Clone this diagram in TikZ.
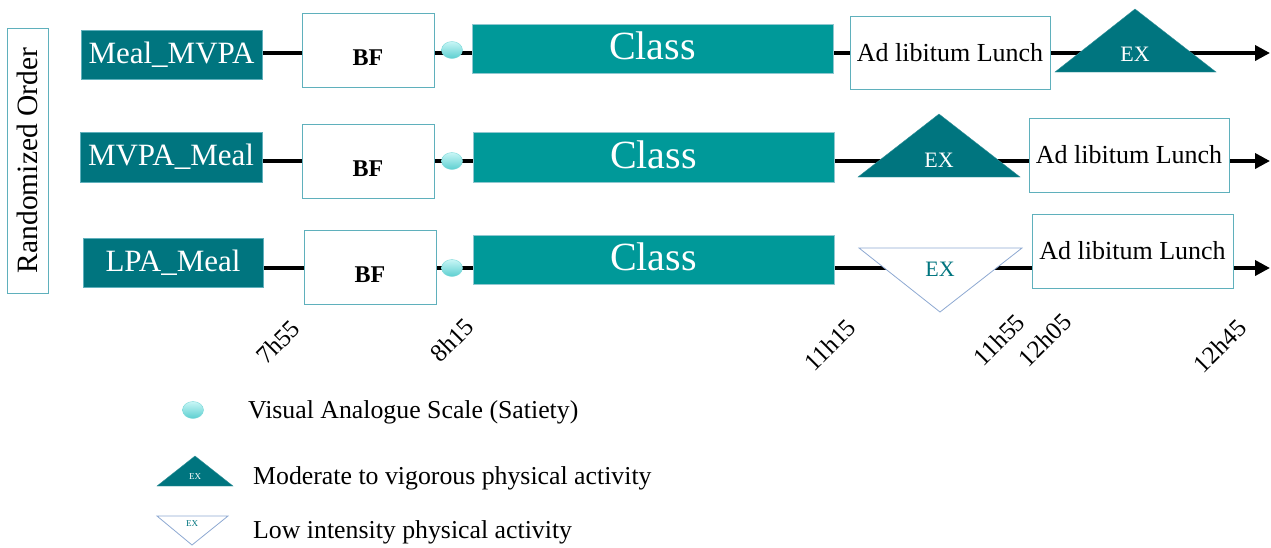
\documentclass[tikz,border=0pt]{standalone}
\usepackage{fontspec}
\setmainfont{Liberation Serif}
\usetikzlibrary{arrows.meta,backgrounds,shapes.geometric}
\definecolor{dteal}{HTML}{00757F}
\definecolor{cteal}{HTML}{009999}
\definecolor{bord}{HTML}{5FB0BC}
\definecolor{dotlo}{HTML}{5CCFD0}
\definecolor{dothi}{HTML}{C8F6F6}
\definecolor{lowedge}{HTML}{8EA9D2}
\newcommand{\fs}[1]{\fontsize{#1}{#1}\selectfont}
\tikzset{
  x=1pt, y=-1pt,
  labbox/.style={fill=dteal, draw=bord, line width=0.8pt, text=white, inner sep=0pt, font=\fs{31}},
  bfbox/.style={fill=white, draw=bord, line width=1pt, inner sep=0pt, minimum width=132pt, minimum height=74pt, font=\fs{24}\bfseries, text height=30pt, text depth=0pt},
  classbox/.style={fill=cteal, draw=bord!70, line width=0.8pt, text=white, inner sep=0pt, minimum width=361pt, minimum height=49pt, font=\fs{40}, text height=28pt, text depth=6pt},
  lunchbox/.style={fill=white, draw=bord, line width=1pt, inner sep=0pt, minimum width=200pt, minimum height=74pt, font=\fs{26}},
  vas/.style={ellipse, minimum width=21pt, minimum height=17pt, inner sep=0pt, top color=dothi, bottom color=dotlo, draw=dotlo!80, line width=0.4pt},
  tl/.style={line width=3.6pt, black},
  tlarrow/.style={tl, -{Triangle[length=15pt,width=15pt]}},
  mvpa/.style={fill=dteal, draw=dteal!80},
  lpa/.style={fill=white, draw=lowedge, line width=0.8pt},
  extext/.style={font=\fs{22}, text=white, inner sep=0pt},
  timelab/.style={rotate=45, font=\fs{25}, inner sep=0pt},
  legtext/.style={anchor=west, font=\fs{25.8}, inner sep=0pt}
}
\begin{document}
\begin{tikzpicture}
\useasboundingbox (0,0) rectangle (1271,547);
% randomized order
\node[draw=bord, line width=1pt, minimum width=41pt, minimum height=265pt, inner sep=0pt] (ro) at (27.5,160.5) {};
\node[rotate=90, font=\fs{29.5}, inner sep=0pt] (rotext) at (ro.center) {Randomized Order};

\coordinate (y1) at (0,53);
\coordinate (y2) at (0,161);
\coordinate (y3) at (0,268);
\coordinate (end1) at (1270,53);
\coordinate (end2) at (1270,161);
\coordinate (end3) at (1270,268);

% row 1
\node[labbox, minimum width=181pt, minimum height=49pt] (lab1) at (171.5,54.5) {Meal\_MVPA};
\node[bfbox] (bf1) at (368,50) {BF};
\node[classbox] (class1) at (652.5,48.5) {Class};
\node[lunchbox, minimum height=73pt] (lunch1) at (950,52.5) {Ad libitum Lunch};
\node[vas] (dot1) at (452,50) {};
\fill[mvpa] (1055,72) -- (1135,9) -- (1216,72) -- cycle;
\node[extext] (ex1) at (1135,54) {EX};

% row 2
\node[labbox, minimum width=182pt, minimum height=50pt] (lab2) at (171,157) {MVPA\_Meal};
\node[bfbox] (bf2) at (368,161) {BF};
\node[classbox, minimum height=50pt] (class2) at (653.5,157) {Class};
\node[lunchbox] (lunch2) at (1129,155) {Ad libitum Lunch};
\node[vas] (dot2) at (452,161) {};
\fill[mvpa] (858,177) -- (939,114) -- (1020,177) -- cycle;
\node[extext] (ex2) at (939,160) {EX};

% row 3
\node[labbox, minimum width=180pt, minimum height=49pt] (lab3) at (173,262.5) {LPA\_Meal};
\node[bfbox] (bf3) at (370,267) {BF};
\node[classbox] (class3) at (653.5,259.5) {Class};
\node[lunchbox, minimum width=201pt] (lunch3) at (1132.5,251) {Ad libitum Lunch};
\node[vas] (dot3) at (452,268) {};
\filldraw[lpa] (859,248) -- (1022,248) -- (940,312) -- cycle;
\node[extext, text=dteal] (ex3) at (940,269) {EX};

% timeline connectors
\begin{scope}[on background layer]
\draw[tl] (lab1.east |- y1) -- (bf1.west |- y1);
\draw[tl] (bf1.east |- y1) -- (class1.west |- y1);
\draw[tl] (class1.east |- y1) -- (lunch1.west |- y1);
\draw[tlarrow] (lunch1.east |- y1) -- (end1);
\draw[tl] (lab2.east |- y2) -- (bf2.west |- y2);
\draw[tl] (bf2.east |- y2) -- (class2.west |- y2);
\draw[tl] (class2.east |- y2) -- (lunch2.west |- y2);
\draw[tlarrow] (lunch2.east |- y2) -- (end2);
\draw[tl] (lab3.east |- y3) -- (bf3.west |- y3);
\draw[tl] (bf3.east |- y3) -- (class3.west |- y3);
\draw[tl] (class3.east |- y3) -- (lunch3.west |- y3);
\draw[tlarrow] (lunch3.east |- y3) -- (end3);
\end{scope}

% time labels
\node[timelab] (t1) at (278,342) {7h55};
\node[timelab] (t2) at (452,340) {8h15};
\node[timelab] (t3) at (830,345) {11h15};
\node[timelab] (t4) at (999,340) {11h55};
\node[timelab] (t5) at (1045,340) {12h05};
\node[timelab] (t6) at (1220,346) {12h45};

% legend
\node[vas] (legdot) at (193,410) {};
\node[legtext] (legvas) at (248,412) {Visual Analogue Scale (Satiety)};
\fill[mvpa] (157,486) -- (195,456) -- (233,486) -- cycle;
\node[extext, font=\fs{9}] (legex1) at (195,477) {EX};
\node[legtext] (legmvpa) at (253,478) {Moderate to vigorous physical activity};
\filldraw[lpa] (157,516) -- (228,516) -- (192,545) -- cycle;
\node[extext, font=\fs{9}, text=dteal] (legex2) at (192,524) {EX};
\node[legtext] (leglpa) at (253,532) {Low intensity physical activity};
\end{tikzpicture}
\end{document}
